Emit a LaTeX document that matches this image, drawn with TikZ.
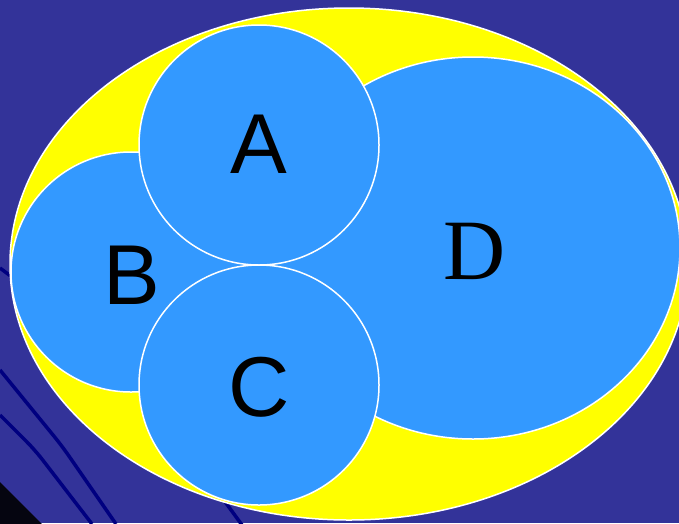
\documentclass[tikz,border=0pt]{standalone}
\usepackage{fontspec}
\setmainfont{Liberation Sans}
\newfontfamily\serifD{Liberation Serif}
\definecolor{bgblue}{RGB}{51,51,153}
\definecolor{navyline}{RGB}{0,0,128}
\definecolor{cornerblack}{RGB}{5,5,16}
\definecolor{setyellow}{RGB}{255,255,0}
\definecolor{setblue}{RGB}{51,153,255}
\tikzset{
  bgline/.style={draw=navyline, line width=3.5pt, line join=round, rounded corners=12pt},
  universe/.style={fill=setyellow, draw=white, line width=1.5pt},
  setshape/.style={fill=setblue, draw=white, line width=1.5pt},
  setlabel/.style={inner sep=0pt, text=black, font=\fontsize{85}{85}\selectfont},
  setlabelD/.style={inner sep=0pt, text=black, font=\serifD\fontsize{86}{86}\selectfont}
}
\begin{document}
\begin{tikzpicture}[x=1pt,y=-1pt]
\useasboundingbox (0,0) rectangle (679,523);
\clip (0,0) rectangle (679,523);
\fill[bgblue] (0,0) rectangle (679,523);
% background decoration
\draw[bgline] (0,268) -- (40,298);
\draw[bgline] (0,370) -- (62,446) -- (116,524);
\draw[bgline] (0,415) -- (35,450) -- (92,524);
\draw[bgline] (215,488) -- (242,525);
\fill[cornerblack] (0,482) -- (42,524) -- (0,524) -- cycle;
% universe
\draw[universe] (349,264) ellipse [x radius=339pt, y radius=256pt];
% sets
\draw[setshape] (131,272) circle [radius=120pt];
\draw[setshape] (473,248) ellipse [x radius=207pt, y radius=191pt];
\draw[setshape] (259,145) circle [radius=120pt];
\draw[setshape] (259,385) circle [radius=120pt];
% labels
\node[setlabel] (labA) at (259,144.5) {A};
\node[setlabel] (labB) at (131.5,275) {B};
\node[setlabel] (labC) at (259,387) {C};
\node[setlabelD] (labD) at (475,251.5) {D};
\end{tikzpicture}
\end{document}
